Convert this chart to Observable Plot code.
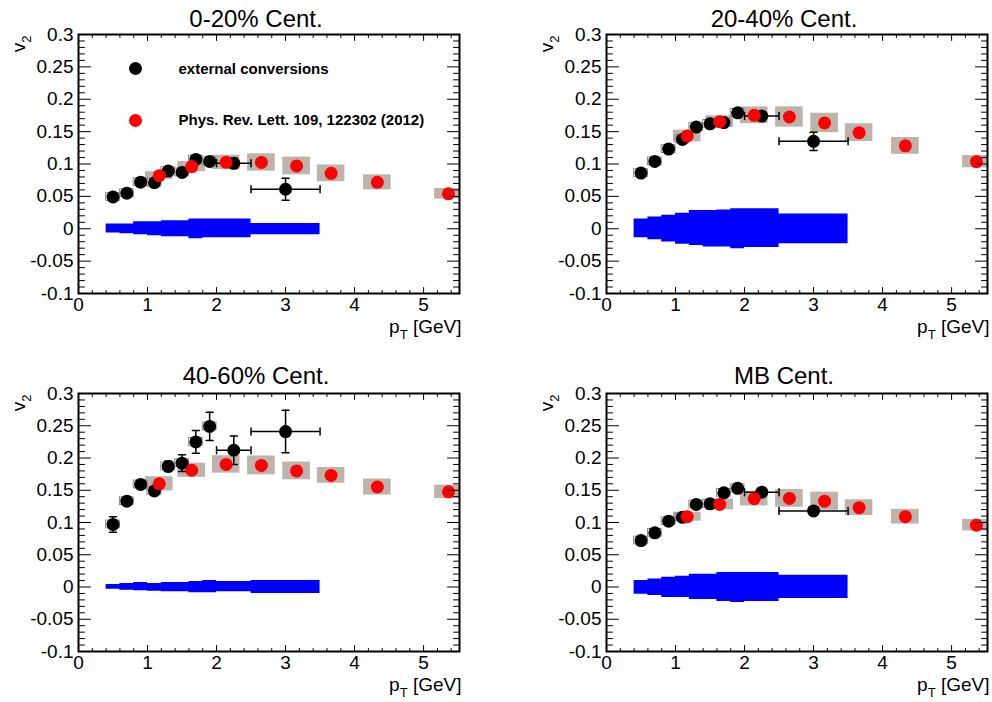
<!DOCTYPE html>
<html><head><meta charset="utf-8">
<script src="https://cdn.jsdelivr.net/npm/d3@7"></script>
<script src="https://cdn.jsdelivr.net/npm/@observablehq/plot@0.6"></script>
<style>
body{margin:0;background:#fff;}
#wrap{position:relative;width:992px;height:702px;overflow:hidden;font-family:"Liberation Sans",Arial,sans-serif;}
.pad{position:absolute;}
</style></head><body><div id="wrap"></div>
<script>
// ---------------- data ----------------
const titles = ["0-20% Cent.", "20-40% Cent.", "40-60% Cent.", "MB Cent."];

// external conversions (black)
const convPt   = [0.5, 0.7, 0.9, 1.1, 1.3, 1.5, 1.7, 1.9, 2.25, 3.0];
const convPtLo = [0.5, 0.7, 0.9, 1.1, 1.3, 1.5, 1.7, 1.9, 2.0, 2.5];
const convPtHi = [0.5, 0.7, 0.9, 1.1, 1.3, 1.5, 1.7, 1.9, 2.5, 3.5];
const conv_0020 = [0.049, 0.055, 0.072, 0.071, 0.089, 0.087, 0.107, 0.104, 0.101, 0.061];
const convErr_0020 = [0.004, 0.004, 0.004, 0.004, 0.004, 0.004, 0.004, 0.005, 0.008, 0.017];
const conv_2040 = [0.086, 0.104, 0.123, 0.138, 0.157, 0.162, 0.164, 0.179, 0.174, 0.135];
const convErr_2040 = [0.003, 0.003, 0.004, 0.004, 0.004, 0.004, 0.005, 0.006, 0.006, 0.014];
const conv_4060 = [0.097, 0.133, 0.159, 0.149, 0.187, 0.192, 0.225, 0.249, 0.212, 0.241];
const convErr_4060 = [0.012, 0.005, 0.005, 0.006, 0.008, 0.013, 0.0175, 0.022, 0.022, 0.033];
const conv_MB = [0.072, 0.084, 0.102, 0.108, 0.128, 0.129, 0.146, 0.153, 0.147, 0.118];
const convErr_MB = [0.003, 0.003, 0.003, 0.003, 0.003, 0.003, 0.004, 0.004, 0.004, 0.006];

// Phys. Rev. Lett. 109, 122302 (2012) (red, with grey systematic boxes)
const prlPt = [1.17, 1.64, 2.14, 2.65, 3.16, 3.66, 4.33, 5.36];
const prl_0020 = [0.082, 0.096, 0.1026, 0.1024, 0.097, 0.0856, 0.0717, 0.054];
const prlSys_0020 = [0.006, 0.008, 0.011, 0.0134, 0.0137, 0.0129, 0.0116, 0.0082];
const prl_2040 = [0.1433, 0.1654, 0.1752, 0.1726, 0.1634, 0.1484, 0.128, 0.1036];
const prlSys_2040 = [0.009, 0.009, 0.013, 0.0157, 0.015, 0.0137, 0.013, 0.0095];
const prl_4060 = [0.16, 0.181, 0.19, 0.1885, 0.18, 0.173, 0.155, 0.1475];
const prlSys_4060 = [0.011, 0.011, 0.0135, 0.0146, 0.0138, 0.0122, 0.0125, 0.0104];
const prl_MB = [0.109, 0.128, 0.137, 0.1374, 0.133, 0.123, 0.109, 0.0958];
const prlSys_MB = [0.007, 0.0083, 0.0114, 0.0138, 0.014, 0.0122, 0.0114, 0.009];

// blue systematic band around zero
const bandLo = [0.4, 0.6, 0.8, 1.0, 1.2, 1.4, 1.6, 1.8, 2.0, 2.5];
const bandHi = [0.6, 0.8, 1.0, 1.2, 1.4, 1.6, 1.8, 2.0, 2.5, 3.5];
const bandUp_0020 = [0.0072, 0.0072, 0.011, 0.011, 0.0124, 0.0124, 0.015, 0.015, 0.015, 0.0082];
const bandDn_0020 = [-0.0067, -0.0077, -0.0093, -0.011, -0.0124, -0.0124, -0.0155, -0.014, -0.014, -0.0093];
const bandUp_2040 = [0.0149, 0.018, 0.021, 0.024, 0.028, 0.028, 0.029, 0.031, 0.031, 0.0227];
const bandDn_2040 = [-0.0139, -0.017, -0.0206, -0.024, -0.026, -0.028, -0.028, -0.031, -0.029, -0.023];
const bandUp_4060 = [0.0039, 0.0055, 0.007, 0.0055, 0.007, 0.007, 0.0086, 0.0101, 0.0086, 0.0101];
const bandDn_4060 = [-0.0034, -0.0049, -0.006, -0.0065, -0.0075, -0.0075, -0.0091, -0.0091, -0.0075, -0.0101];
const bandUp_MB = [0.0099, 0.0125, 0.0151, 0.0166, 0.0198, 0.0198, 0.0224, 0.0224, 0.0224, 0.0182];
const bandDn_MB = [-0.0114, -0.013, -0.0161, -0.0161, -0.0192, -0.0192, -0.0224, -0.0239, -0.0224, -0.0177];

// axes
const xMajor = [0, 1, 2, 3, 4, 5];
const xLabels = ["0", "1", "2", "3", "4", "5"];
const yMajor = [-0.1, -0.05, 0, 0.05, 0.1, 0.15, 0.2, 0.25, 0.3];
const yLabels = ["-0.1", "-0.05", "0", "0.05", "0.1", "0.15", "0.2", "0.25", "0.3"];
const legendLabels = ["external conversions", "Phys. Rev. Lett. 109, 122302 (2012)"];

// ---------------- assembly ----------------
const convV = [conv_0020, conv_2040, conv_4060, conv_MB];
const convE = [convErr_0020, convErr_2040, convErr_4060, convErr_MB];
const prlV = [prl_0020, prl_2040, prl_4060, prl_MB];
const prlS = [prlSys_0020, prlSys_2040, prlSys_4060, prlSys_MB];
const bandU = [bandUp_0020, bandUp_2040, bandUp_4060, bandUp_MB];
const bandD = [bandDn_0020, bandDn_2040, bandDn_4060, bandDn_MB];

const pads = [
  {left: 0,   top: 0,   mL: 78,  mR: 37, mT: 34, mB: 58, tdy: -8},
  {left: 496, top: 0,   mL: 110, mR: 5,  mT: 34, mB: 58, tdy: -8},
  {left: 0,   top: 351, mL: 78,  mR: 37, mT: 42, mB: 51, tdy: -10},
  {left: 496, top: 351, mL: 110, mR: 5,  mT: 42, mB: 51, tdy: -10}
];

const xMinor = d3.range(0, 28).map(i => i / 5).filter(v => Math.abs(v - Math.round(v)) > 1e-9);
const yMinor = d3.range(-10, 31).filter(i => i % 5 !== 0).map(i => i / 100);
const LINE = {draw(ctx, l) { ctx.moveTo(0, 0); ctx.lineTo(0, -l); }};
const FONT = "'Liberation Sans', Arial, Helvetica, sans-serif";

function ticks(vals, axis, anchor, rot, len) {
  const o = {frameAnchor: anchor, length: len, rotate: rot, anchor: "start", shape: LINE, stroke: "black", strokeWidth: 1};
  if (axis === "x") o.x = d => d; else o.y = d => d;
  return Plot.vector(vals, o);
}

const wrap = document.getElementById("wrap");

pads.forEach((p, k) => {
  const ci = d3.range(convPt.length);
  const pi = d3.range(prlPt.length);
  const nb = bandLo.length;
  // step outline: each bin start, plus the final bin end
  const bi = d3.range(nb + 1);
  const bx = i => (i < nb ? bandLo[i] : bandHi[nb - 1]);
  const by1 = i => bandD[k][Math.min(i, nb - 1)];
  const by2 = i => bandU[k][Math.min(i, nb - 1)];
  const cv = convV[k], ce = convE[k], pv = prlV[k], ps = prlS[k];
  const xerrIdx = ci.filter(i => convPtHi[i] > convPtLo[i]);

  const marks = [
    // blue band
    Plot.areaY(bi, {x: bx, y1: by1, y2: by2, curve: "step-after", fill: "#0000ff"}),
    // grey systematic boxes for PRL
    Plot.rect(pi, {x1: i => prlPt[i] - 0.2, x2: i => prlPt[i] + 0.2, y1: i => pv[i] - ps[i], y2: i => pv[i] + ps[i],
      fill: "#bdb3aa", clip: true}),
    // small systematic boxes for conversions
    Plot.rect(ci.slice(0, 8), {x1: i => convPt[i] - 0.1, x2: i => convPt[i] + 0.1, y1: i => cv[i] - 0.006, y2: i => cv[i] + 0.006,
      fill: "none", stroke: "#8a8a8a", strokeWidth: 1}),
    // error bars
    Plot.ruleX(ci, {x: i => convPt[i], y1: i => cv[i] - ce[i], y2: i => cv[i] + ce[i], stroke: "black", strokeWidth: 1.5}),
    Plot.vector(ci, {x: i => convPt[i], y: i => cv[i] - ce[i], length: 7, rotate: 90, anchor: "middle", shape: LINE, stroke: "black", strokeWidth: 1.5}),
    Plot.vector(ci, {x: i => convPt[i], y: i => cv[i] + ce[i], length: 7, rotate: 90, anchor: "middle", shape: LINE, stroke: "black", strokeWidth: 1.5}),
    Plot.ruleY(xerrIdx, {y: i => cv[i], x1: i => convPtLo[i], x2: i => convPtHi[i], stroke: "black", strokeWidth: 1.5}),
    Plot.vector(xerrIdx, {x: i => convPtLo[i], y: i => cv[i], length: 7, rotate: 0, anchor: "middle", shape: LINE, stroke: "black", strokeWidth: 1.5}),
    Plot.vector(xerrIdx, {x: i => convPtHi[i], y: i => cv[i], length: 7, rotate: 0, anchor: "middle", shape: LINE, stroke: "black", strokeWidth: 1.5}),
    // points
    Plot.dot(ci, {x: i => convPt[i], y: i => cv[i], r: 6.5, fill: "black"}),
    Plot.dot(pi, {x: i => prlPt[i], y: i => pv[i], r: 6.5, fill: "#ff0000"}),
    // frame and ticks
    Plot.frame({stroke: "black", strokeWidth: 2}),
    ticks(xMajor, "x", "bottom", 0, 6), ticks(xMinor, "x", "bottom", 0, 3),
    ticks(xMajor, "x", "top", 180, 6), ticks(xMinor, "x", "top", 180, 3),
    ticks(yMajor, "y", "left", 90, 12), ticks(yMinor, "y", "left", 90, 6),
    ticks(yMajor, "y", "right", -90, 12), ticks(yMinor, "y", "right", -90, 6),
    // tick labels
    Plot.text(xMajor, {x: d => d, text: (d, i) => xLabels[i], frameAnchor: "bottom", dy: 4, lineAnchor: "top", fontSize: 19}),
    Plot.text(yMajor, {y: d => d, text: (d, i) => yLabels[i], frameAnchor: "left", dx: -5, textAnchor: "end", lineAnchor: "middle", fontSize: 19}),
    // axis titles
    Plot.text(["v_2"], {frameAnchor: "top-left", dx: -54, dy: 1, rotate: -90, textAnchor: "end", lineAnchor: "bottom", fontSize: 19}),
    Plot.text(["p_T [GeV]"], {frameAnchor: "bottom-right", dx: 2, dy: 39, textAnchor: "end", lineAnchor: "bottom", fontSize: 19}),
    // title
    Plot.text([titles[k]], {frameAnchor: "top", dx: -13, dy: p.tdy, textAnchor: "middle", lineAnchor: "bottom", fontSize: 24})
  ];

  if (k === 0) {
    marks.push(
      Plot.dot([0], {frameAnchor: "top-left", dx: 57, dy: 34, r: 6.5, fill: "black"}),
      Plot.dot([0], {frameAnchor: "top-left", dx: 57, dy: 86, r: 6.5, fill: "#ff0000"}),
      Plot.text([legendLabels[0]], {frameAnchor: "top-left", dx: 100, dy: 35, textAnchor: "start", lineAnchor: "middle", fontSize: 15, fontWeight: "bold"}),
      Plot.text([legendLabels[1]], {frameAnchor: "top-left", dx: 100, dy: 86, textAnchor: "start", lineAnchor: "middle", fontSize: 15, fontWeight: "bold"})
    );
  }

  const svg = Plot.plot({
    width: 496, height: 351,
    marginLeft: p.mL, marginRight: p.mR, marginTop: p.mT, marginBottom: p.mB,
    x: {domain: [0, 5.52], axis: null},
    y: {domain: [-0.1, 0.3], axis: null},
    style: {fontFamily: FONT, fontSize: "19px", color: "black", background: "white", overflow: "visible"},
    marks
  });

  // subscripts in axis titles
  d3.select(svg).selectAll("text").each(function () {
    const t = this.textContent;
    if (t === "v_2" || t === "p_T [GeV]") {
      const base = t === "v_2" ? "v" : "p";
      const sub = t === "v_2" ? "2" : "T";
      const rest = t === "v_2" ? "" : " [GeV]";
      this.textContent = "";
      const s = d3.select(this);
      s.append("tspan").text(base);
      s.append("tspan").attr("dy", 6).attr("font-size", 13).text(sub);
      if (rest) s.append("tspan").attr("dy", -6).text(rest);
    }
  });

  const div = document.createElement("div");
  div.className = "pad";
  div.style.left = p.left + "px";
  div.style.top = p.top + "px";
  div.appendChild(svg);
  wrap.appendChild(div);
});
</script>
</body></html>
